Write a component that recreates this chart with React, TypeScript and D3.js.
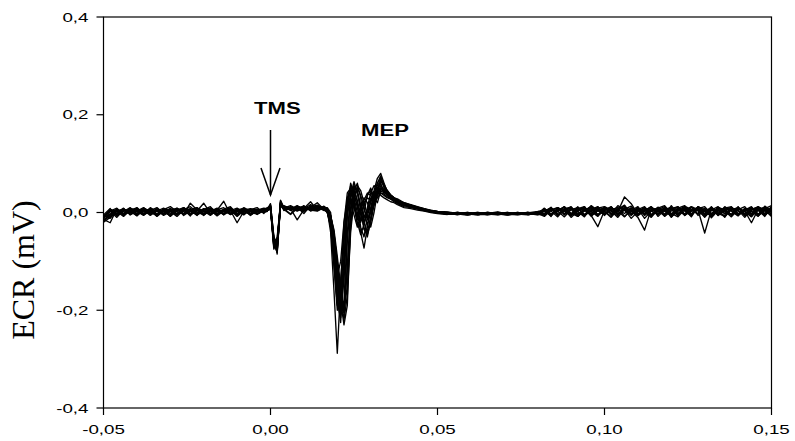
import React, { useRef, useEffect } from 'react';
import * as d3 from 'd3';

// sample times (ms) shared by every sweep
const timeMs = [
  -50, -48, -46, -44, -42, -40, -38, -36, -34, -32, -30, -28, -26, -24, -22, -20, -18, -16, -14, -12, -10, -8, -6, -4, -2,
  -1, 0, 1, 2, 3, 4, 6, 8, 10, 12, 14, 16,
  17, 18, 19, 20, 21, 22, 23, 24, 25, 26, 27, 28, 29, 30, 31, 32, 33, 34, 35, 36, 37, 38, 39, 40,
  42, 44, 46, 48, 50, 53, 56, 59, 62, 65, 68, 71, 74, 77, 80,
  82, 84, 86, 88, 90, 92, 94, 96, 98, 100, 102, 104, 106, 108, 110, 112, 114, 116, 118, 120, 122, 124, 126, 128, 130,
  132, 134, 136, 138, 140, 142, 144, 146, 148, 150,
];

// ECR sweeps, values in microvolts
const sweep01 = [
  -15, -8, 5, -3, 8, 2, -6, 4, 10, -2, 3, -5, 6, 12, 0, -4, 7, 2, -3, 5, -8, 4, 2, 6, 3,
  5, 14, -72, -50, 18, 10, 6, 12, 4, 8, 10, 7,
  5, -40, -160, -288, -150, -20, 40, 50, 20, -10, 10, 30, 20, 0, 15, 40, 55, 45, 35, 30, 25, 22, 20, 18,
  14, 10, 6, 3, 1, -2, 0, -3, -1, -4, -2, 0, -3, -1, 2,
  5, -6, 8, -3, 10, -8, 4, 12, -5, 2, -10, 6, 15, -4, 8, -12, 3, 10, -6, 14, -2, 6, -9, 12, 4, -7, 10, -3, 8, 5, -10, 6, 12, -4, 8,
];
const sweep02 = [
  -8, 3, -10, 5, 0, 9, -4, 2, -7, 6, 12, 2, -3, 4, -6, 8, 3, -5, 6, 1, -4, 8, -2, 5, 9,
  8, 6, -60, -82, 22, 6, -4, 8, 12, 5, 3, 10,
  0, -20, -90, -170, -225, -120, 10, 60, 40, 10, -20, 0, 35, 50, 30, 20, 45, 40, 38, 30, 28, 25, 20, 18,
  15, 11, 8, 4, 2, 0, -3, -1, -4, -2, 1, -3, -5, -2, -4,
  -4, 8, -2, 6, -10, 3, 12, -6, -29, 4, 9, -3, 6, -12, 2, 10, -4, 7, -8, 3, 12, -6, 5, -3, 9, -11, 4, 8, -5, 10, 2, -8, 6, 11, -3,
];
const sweep03 = [
  -20, -10, 2, 8, -4, 3, 10, -2, 4, -6, 2, 8, -4, 19, 5, -3, 6, -2, 4, 10, -2, 5, 8, 3, 6,
  6, 18, -55, -78, 12, 14, 8, -15, 6, 10, 20, 6,
  5, -10, -50, -130, -200, -215, -60, 30, 55, 20, -30, -50, -10, 25, 45, 70, 80, 60, 40, 35, 30, 26, 22, 20,
  16, 12, 8, 5, 2, 1, -2, 0, -3, -1, -4, -2, 0, -4, -2,
  8, -3, 5, 10, -6, 2, -9, 14, 4, -5, 8, 2, 32, 18, -4, 6, -8, 10, 3, -6, 9, 14, -4, 6, -10, 5, 12, -2, 7, -6, 4, 10, -5, 8, 14,
];
const sweep04 = [
  -12, 4, -6, 2, 10, -5, 3, 7, -3, 5, -8, 4, 9, -2, 6, 3, -6, 5, 23, -4, 6, -2, 3, 7, -1,
  3, 10, -68, -62, 25, 9, 10, 4, 14, 3, 8, 12,
  8, -5, -40, -110, -180, -230, -190, -20, 45, 60, 30, -20, -40, -10, 20, 35, 50, 48, 42, 36, 30, 28, 24, 20,
  15, 10, 7, 3, 0, -3, -1, -5, -2, 0, -3, -5, -1, -3, 0,
  -6, 4, 10, -3, 6, -8, 5, 2, 10, -6, 12, -4, 6, 3, -10, -36, 8, -2, 10, -5, 4, 9, -6, 11, 3, -8, 6, 2, -4, 12, -7, 5, 9, -3, 6,
];
const sweep05 = [
  -18, -4, 6, -2, 3, -7, 5, -3, 8, 2, -4, 6, -2, 5, 10, -5, 3, 8, -2, 4, -21, 2, 6, -3, 5,
  6, 8, -75, -58, 16, 12, 8, 10, -2, 14, 6, 9,
  0, -30, -110, -200, -170, -60, 20, 45, 30, 0, -40, -73, -30, 10, 40, 60, 75, 50, 38, 32, 26, 22, 18, 15,
  12, 8, 5, 2, 0, -2, -4, -1, -3, 0, -2, -4, -1, -2, -5,
  3, 10, -5, 6, -3, 12, -7, 4, 8, -2, 6, 10, -8, 4, 12, -5, 9, -3, 6, 11, -4, 7, -2, 5, -42, 6, -3, 10, 4, -6, 8, -2, 11, 5, -8,
];
const sweep06 = [
  -10, 6, 2, -8, 5, 8, -2, 4, -5, 3, 7, -3, 10, 2, -4, 6, 12, -3, 5, -2, 8, 3, -5, 4, 2,
  2, 15, -50, -85, 20, 4, 12, 6, 8, 22, 5, 10,
  10, 0, -60, -140, -210, -180, -40, 35, 63, 40, 10, -10, 5, 30, 25, 45, 60, 42, 35, 28, 25, 20, 16, 14,
  11, 8, 4, 2, -1, -3, 0, -2, -5, -3, -1, -3, -4, 0, -2,
  -8, 5, 2, 12, -4, 6, 10, -6, 3, 9, -3, 14, 5, -6, 8, 2, -10, 6, 12, -3, 7, -5, 10, 4, -8, 6, -2, 9, 12, -5, 3, -21, 6, 10, -4,
];
const sweep07 = [
  -6, -12, 4, 6, -3, 2, 5, -6, 3, 9, -2, 4, 7, -5, 3, 19, -2, 6, 3, -4, 5, 9, -3, 2, 7,
  7, 5, -65, -70, 14, 8, -3, 12, 10, 6, 14, 4,
  5, -15, -70, -150, -195, -140, -10, 40, 25, -20, -45, -25, 10, 40, 55, 50, 40, 35, 30, 28, 24, 20, 17, 15,
  12, 9, 6, 3, 1, -1, -3, -5, -2, -4, 0, -2, -3, -5, -1,
  6, -4, 8, 3, -7, 10, 4, -3, 9, 12, -5, 6, -2, 10, -6, 4, 12, -8, 5, 9, -4, 13, 6, -2, 8, -5, 10, 3, -9, 6, 12, -4, 7, -6, 10,
];
const sweep08 = [
  -14, -21, 8, -4, 2, 3, 6, -2, 5, -4, 8, 2, -3, 6, 10, -2, 4, -5, 7, 12, -3, 5, 2, -4, 4,
  4, 9, -58, -66, 24, 10, 5, 9, 2, 12, 8, 6,
  0, -25, -80, -160, -140, -50, 15, 30, 10, -15, 5, 25, 40, 35, 20, 30, 40, 38, 32, 27, 22, 18, 15, 12,
  10, 7, 4, 1, -1, -2, -4, -1, -3, -5, -2, 0, -4, -2, -3,
  2, 9, -6, 4, 12, -3, 7, -8, 5, 10, -2, 6, 14, -4, 3, 9, -6, 11, 2, -5, 8, 4, 12, -6, 3, 10, -4, 6, 9, -3, 5, 12, -7, 4, 9,
];
const sweep09 = [
  -9, 4, -3, 7, 2, -6, 9, 3, -4, 6, 2, -8, 5, 3, -3, 8, -4, 2, 6, -3, 4, -2, 7, 5, 1,
  5, 11, -62, -74, 18, 12, 9, 3, 10, 7, 12, 9,
  5, -10, -45, -100, -160, -195, -120, 0, 50, 45, 15, -5, -25, 0, 30, 55, 65, 55, 45, 36, 30, 25, 21, 18,
  15, 11, 7, 4, 2, 0, -2, -4, -1, -3, -5, -2, -1, -4, -2,
  -5, 7, 3, -9, 6, 10, -4, 8, -6, 5, 12, -3, 9, 4, -7, 10, 3, -4, 8, -10, 6, 12, -3, 7, 2, -6, 11, 5, -4, 8, 2, -9, 12, 4, -6,
];
const sweep10 = [
  -16, -6, 3, -2, 9, 4, -3, 6, -5, 2, 8, -4, 3, 7, -2, 5, 9, -3, 4, 8, -6, 3, -2, 6, 4,
  9, 7, -52, -60, 15, 6, 7, 14, 5, 9, 4, 11,
  8, -15, -75, -130, -100, -20, 25, 20, -5, -30, -10, 20, 30, 25, 35, 45, 35, 30, 26, 22, 20, 16, 13, 10,
  8, 5, 3, 0, -2, -4, -1, -3, 0, -2, -4, -1, -3, 0, -2,
  4, -7, 9, 2, -4, 8, 12, -5, 6, 3, -8, 10, 4, -2, 11, -6, 5, 9, -3, 6, -7, 10, 3, 8, -4, 12, -2, -8, 6, 10, -3, 7, 4, -8, 11,
];
const sweep11 = [
  -11, 7, -4, 3, 6, -2, 2, 8, -3, 5, -6, 9, 2, -4, 6, 3, -2, 7, -5, 4, 9, -2, 5, 3, 6,
  3, 13, -66, -80, 20, 7, 11, 8, 13, 4, 10, 6,
  2, -20, -95, -185, -215, -100, 20, 55, 35, 15, 0, -30, -50, -15, 25, 40, 50, 45, 38, 32, 28, 24, 20, 16,
  13, 9, 6, 3, 1, -1, -3, 0, -4, -2, -3, -5, -2, -1, -3,
  7, -3, 5, 11, -6, 4, 9, -2, 12, -5, 6, 3, -9, 8, 4, -3, 10, 5, -7, 9, 2, -4, 12, 6, -3, 9, -6, 4, 11, -2, 6, -5, 10, 3, 7,
];
const sweep12 = [
  -7, 3, 9, -5, 4, 2, -4, 7, 3, -2, 5, 8, -3, 4, 6, -4, 2, 9, -2, 5, 3, 7, -4, 2, 8,
  6, 16, -48, -72, 12, 11, 6, 13, 7, 16, 9, 5,
  6, -8, -35, -90, -150, -205, -150, -30, 30, 50, 35, 10, -15, 5, 35, 60, 70, 52, 40, 34, 28, 24, 20, 17,
  14, 10, 6, 3, 1, -2, 0, -3, -5, -1, -2, -4, 0, -3, -1,
  -3, 6, 10, -5, 8, 2, -6, 11, 4, -3, 9, 6, 12, -4, 7, -2, 10, 3, -6, 8, 12, -3, 5, 9, -5, 7, 2, -7, 10, 4, -4, 9, 6, -2, 12,
];
const sweep13 = [
  -13, 5, -2, 9, -5, 3, 8, -4, 6, 2, -7, 5, 10, -3, 4, -6, 9, 3, -4, 7, 2, -5, 6, 10, -2,
  10, 12, -64, -55, 17, 13, 4, 10, 6, 11, 15, 8,
  4, -18, -85, -165, -190, -90, 5, 35, 45, 25, -5, -20, 0, 20, 40, 35, 50, 46, 40, 33, 27, 23, 19, 16,
  13, 9, 6, 2, 0, -2, -4, -2, 0, -3, -1, -4, -2, 0, -3,
  9, -5, 3, 12, -2, -8, 6, 10, -4, 8, 3, -10, 7, 13, -3, 5, -6, 9, 14, -2, -9, 6, 3, 11, -5, 8, -3, 12, 2, -7, 9, 4, -5, 13, 3,
];
const sweep14 = [
  -17, -3, 7, -6, 4, 10, -2, 5, -8, 3, 6, -2, 4, 8, -5, 2, 5, -7, 3, 6, -4, 10, 3, -3, 5,
  4, 9, -70, -68, 19, 8, 9, 5, 12, 8, 6, 13,
  6, -12, -60, -120, -175, -205, -110, 10, 55, 40, 5, -35, -45, -20, 15, 50, 62, 58, 44, 35, 29, 25, 21, 18,
  14, 10, 6, 3, 1, -1, -3, -5, -2, -1, -4, -2, -3, -1, -4,
  -2, 11, -6, 5, 9, -4, 3, 13, -7, 6, 10, -2, 5, 8, -6, 3, 12, -4, 7, -9, 4, 10, -5, 8, 12, -3, 6, -10, 9, 3, -5, 10, -3, 7, 2,
];
const sweep15 = [
  -5, 8, -7, 4, 1, 7, -5, 10, 2, -3, 4, 9, -6, 3, 7, -2, 6, 4, -3, 9, -5, 6, 4, -1, 7,
  7, 10, -56, -64, 21, 9, 14, 7, 3, 12, 9, 7,
  3, -28, -105, -190, -160, -45, 30, 50, 15, -25, -15, 15, 35, 45, 20, 35, 48, 42, 36, 30, 26, 21, 18, 15,
  12, 8, 5, 2, 0, -3, -1, -4, -2, -4, 0, -3, -1, -4, -2,
  5, -8, 10, 4, -3, 9, -5, 6, 12, -2, 4, -7, 10, 5, -3, 11, -5, 2, 9, -6, 8, 3, -7, 12, 5, -2, 9, 4, -6, 11, -3, 7, 10, -5, 4,
];
const sweep16 = [
  -19, 2, 4, -5, 7, -3, 9, 1, -6, 8, 3, -4, 6, -7, 9, 4, -3, 6, 10, -4, 2, 6, -6, 4, 8,
  3, 12, -61, -77, 16, 10, 7, 11, 9, 5, 13, 10,
  7, -6, -42, -105, -170, -220, -170, -40, 25, 55, 45, 20, -5, -30, 0, 40, 72, 55, 42, 35, 29, 24, 20, 17,
  14, 10, 7, 4, 1, -1, -4, -2, -3, 0, -2, -5, -3, -1, -2,
  6, 3, -9, 8, 11, -5, 7, 2, -8, 12, 5, -4, 9, -3, 6, 12, -7, 4, 8, -4, 10, -6, 3, 9, -2, 11, -6, 5, 10, -4, 7, 2, -8, 9, 5,
];

const sweeps = [
  sweep01, sweep02, sweep03, sweep04, sweep05, sweep06, sweep07, sweep08,
  sweep09, sweep10, sweep11, sweep12, sweep13, sweep14, sweep15, sweep16,
];

const xTicks = [-0.05, 0, 0.05, 0.1, 0.15];
const xTickLabels = ["-0,05", "0,00", "0,05", "0,10", "0,15"];
const yTicks = [-0.4, -0.2, 0, 0.2, 0.4];
const yTickLabels = ["-0,4", "-0,2", "0,0", "0,2", "0,4"];

export default function App() {
  const ref = useRef<SVGSVGElement>(null);
  const width = 795;
  const height = 441;

  useEffect(() => {
    const svg = d3.select(ref.current);
    svg.selectAll("*").remove();

    const margin = { top: 17, right: 23.5, bottom: 33, left: 103.5 };
    const x = d3.scaleLinear().domain([-0.05, 0.15]).range([margin.left, width - margin.right]);
    const y = d3.scaleLinear().domain([-0.4, 0.4]).range([height - margin.bottom, margin.top]);

    const line = d3.line<number>()
      .x((_, i) => x(timeMs[i] / 1000))
      .y(d => y(d / 1000));

    // sweeps
    svg.append("g")
      .selectAll("path")
      .data(sweeps)
      .enter()
      .append("path")
      .attr("d", d => line(d.slice(0, timeMs.length)))
      .attr("fill", "none")
      .attr("stroke", "#000")
      .attr("stroke-width", 1.35)
      .attr("stroke-linejoin", "round");

    // frame
    const [x0, x1] = x.range();
    const [y0, y1] = y.range();
    svg.append("rect")
      .attr("x", x0)
      .attr("y", y1)
      .attr("width", x1 - x0)
      .attr("height", y0 - y1)
      .attr("fill", "none")
      .attr("stroke", "#000")
      .attr("stroke-width", 1.2);

    // y ticks
    const yAxis = svg.append("g");
    yTicks.forEach((t, i) => {
      yAxis.append("line")
        .attr("x1", x0 - 7).attr("x2", x0)
        .attr("y1", y(t)).attr("y2", y(t))
        .attr("stroke", "#000").attr("stroke-width", 1.2);
      yAxis.append("text")
        .attr("transform", `translate(${x0 - 15},${y(t) + 4.5}) scale(1.5,1)`)
        .attr("text-anchor", "end")
        .attr("font-family", "'Liberation Sans', Arial, sans-serif")
        .attr("font-size", 12.5)
        .attr("fill", "#000")
        .text(yTickLabels[i]);
    });

    // x ticks
    const xAxis = svg.append("g");
    xTicks.forEach((t, i) => {
      xAxis.append("line")
        .attr("x1", x(t)).attr("x2", x(t))
        .attr("y1", y0).attr("y2", y0 + 7)
        .attr("stroke", "#000").attr("stroke-width", 1.2);
      xAxis.append("text")
        .attr("transform", `translate(${x(t)},${y0 + 26}) scale(1.5,1)`)
        .attr("text-anchor", "middle")
        .attr("font-family", "'Liberation Sans', Arial, sans-serif")
        .attr("font-size", 12.5)
        .attr("fill", "#000")
        .text(xTickLabels[i]);
    });

    // y label
    svg.append("text")
      .attr("transform", `translate(34,270) rotate(-90)`)
      .attr("text-anchor", "middle")
      .attr("font-family", "'Liberation Serif', 'Times New Roman', serif")
      .attr("font-size", 32)
      .attr("fill", "#000")
      .text("ECR (mV)");

    // annotations
    svg.append("text")
      .attr("transform", `translate(254,114) scale(1.3,1)`)
      .attr("font-family", "'Liberation Sans', Arial, sans-serif")
      .attr("font-weight", "bold")
      .attr("font-size", 17)
      .attr("fill", "#000")
      .text("TMS");

    svg.append("text")
      .attr("transform", `translate(361,135.5) scale(1.3,1)`)
      .attr("font-family", "'Liberation Sans', Arial, sans-serif")
      .attr("font-weight", "bold")
      .attr("font-size", 17)
      .attr("fill", "#000")
      .text("MEP");

    const ax = x(0);
    svg.append("line")
      .attr("x1", ax).attr("x2", ax)
      .attr("y1", 130).attr("y2", 195)
      .attr("stroke", "#000").attr("stroke-width", 1.5);
    svg.append("path")
      .attr("d", `M${ax - 9.5},168 L${ax},195 L${ax + 9.5},168`)
      .attr("fill", "none")
      .attr("stroke", "#000")
      .attr("stroke-width", 1.5);
  }, []);

  return (
    <svg
      ref={ref}
      width={width}
      height={height}
      style={{ position: 'absolute', left: 0, top: 0, background: '#fff' }}
    ></svg>
  );
}
